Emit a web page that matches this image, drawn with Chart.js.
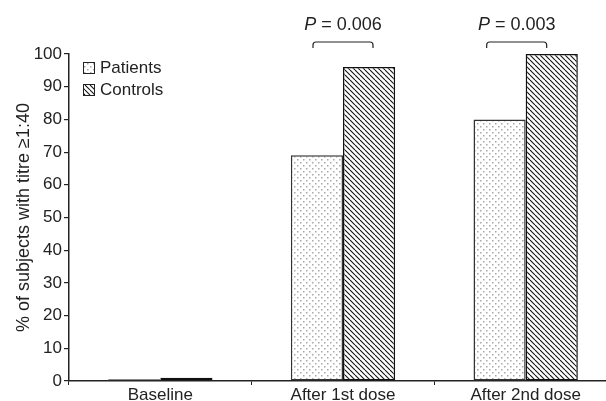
<!doctype html>
<html lang="en">
  <head>
	<meta charset="utf-8">
	<title>Titre chart</title>
	<script src="https://cdn.jsdelivr.net/npm/chart.js@4.4.0/dist/chart.umd.min.js"></script>
	<style>
		body { margin: 0; overflow: hidden; background: #fff; }
		#wrap { width: 617px; height: 401px; }
	</style>
  </head>
  <body>
	<div id="wrap"><canvas id="canvas"></canvas></div>
	<script>
    var categories = ['Baseline', 'After 1st dose', 'After 2nd dose'];
    var patients = [0.5, 69, 80];
    var controls = [1, 96, 100];
    var pValues = [null, '0.006', '0.003'];
    var yTicks = [0, 10, 20, 30, 40, 50, 60, 70, 80, 90, 100];

    var ink = '#222';
    var font = 'Liberation Sans, Arial, sans-serif';

    // stippled fill for patients
    function dotPattern() {
        var c = document.createElement('canvas');
        c.width = 6; c.height = 6;
        var g = c.getContext('2d');
        g.fillStyle = '#fff';
        g.fillRect(0, 0, 6, 6);
        g.fillStyle = '#a8a8a8';
        g.fillRect(0, 0, 1.5, 1.5);
        g.fillRect(3, 3, 1.5, 1.5);
        return g.createPattern(c, 'repeat');
    }

    // backslash hatching for controls
    function hatchPattern() {
        var s = 5;
        var c = document.createElement('canvas');
        c.width = s; c.height = s;
        var g = c.getContext('2d');
        g.fillStyle = '#fff';
        g.fillRect(0, 0, s, s);
        g.strokeStyle = '#111';
        g.lineWidth = 1.1;
        for (var k = -1; k <= 1; k++) {
            g.beginPath();
            g.moveTo(k * s, 0);
            g.lineTo(k * s + s, s);
            g.stroke();
        }
        return g.createPattern(c, 'repeat');
    }

    var legendBoxes = {
        id: 'legendBoxes',
        afterDraw: function(chart) {
            var ctx = chart.ctx, a = chart.chartArea;
            ctx.save();
            ctx.font = '17px ' + font;
            ctx.textBaseline = 'middle';
            chart.data.datasets.forEach(function(ds, i) {
                var x = a.left + 14, y = a.top + 8 + i * 22;
                ctx.fillStyle = ds.backgroundColor;
                ctx.fillRect(x, y, 11, 11);
                ctx.strokeStyle = ink;
                ctx.lineWidth = 1;
                ctx.strokeRect(x + 0.5, y + 0.5, 11, 11);
                ctx.fillStyle = ink;
                ctx.fillText(ds.label, x + 17, y + 6);
            });
            ctx.restore();
        }
    };

    var pBrackets = {
        id: 'pBrackets',
        afterDraw: function(chart) {
            var ctx = chart.ctx, a = chart.chartArea;
            var xs = chart.scales.x;
            ctx.save();
            ctx.strokeStyle = ink;
            ctx.fillStyle = ink;
            ctx.lineWidth = 1.2;
            pValues.forEach(function(p, i) {
                if (!p) return;
                var cx = xs.getPixelForValue(i) - (i === 2 ? 9 : 0);
                var x1 = cx - 30, x2 = cx + 30;
                var yb = a.top - 12, r = 3;
                ctx.beginPath();
                ctx.moveTo(x1, yb + 6);
                ctx.arcTo(x1, yb, x1 + r, yb, r);
                ctx.lineTo(x2 - r, yb);
                ctx.arcTo(x2, yb, x2, yb + 6, r);
                ctx.lineTo(x2, yb + 6);
                ctx.stroke();

                var rest = ' = ' + p;
                ctx.font = 'italic 18px ' + font;
                var w1 = ctx.measureText('P').width;
                ctx.font = '18px ' + font;
                var w2 = ctx.measureText(rest).width;
                var tx = cx - (w1 + w2) / 2;
                ctx.textBaseline = 'alphabetic';
                ctx.font = 'italic 18px ' + font;
                ctx.fillText('P', tx, a.top - 24);
                ctx.font = '18px ' + font;
                ctx.fillText(rest, tx + w1, a.top - 24);
            });
            ctx.restore();
        }
    };

    var config = {
        type: 'bar',
        data: {
            labels: categories,
            datasets: [{
                label: 'Patients',
                data: patients,
                backgroundColor: dotPattern(),
                borderColor: '#333',
                borderWidth: 1.5,
                borderSkipped: false
            }, {
                label: 'Controls',
                data: controls,
                backgroundColor: hatchPattern(),
                borderColor: '#111',
                borderWidth: 1.5,
                borderSkipped: false
            }]
        },
        options: {
            responsive: true,
            maintainAspectRatio: false,
            animation: false,
            layout: { padding: { top: 54, left: 0, right: 0, bottom: 0 } },
            plugins: {
                legend: { display: false },
                tooltip: { enabled: false }
            },
            datasets: {
                bar: { categoryPercentage: 0.571, barPercentage: 1 }
            },
            scales: {
                x: {
                    grid: { drawOnChartArea: false, drawTicks: true, tickLength: 4, color: ink, lineWidth: 1 },
                    border: { display: true, color: ink, width: 1.5 },
                    ticks: { color: ink, font: { family: font, size: 17 }, padding: 0 },
                    afterFit: function(s) { s.height = 20; }
                },
                y: {
                    min: 0,
                    max: 100,
                    afterBuildTicks: function(s) { s.ticks = yTicks.map(function(v) { return { value: v }; }); },
                    grid: { drawOnChartArea: false, drawTicks: true, tickLength: 5, color: ink, lineWidth: 1.2 },
                    border: { display: true, color: ink, width: 1.5 },
                    ticks: { color: ink, font: { family: font, size: 17 }, padding: 2 },
                    title: {
                        display: true,
                        text: '% of subjects with titre \u22651:40',
                        color: ink,
                        font: { family: font, size: 18 },
                        padding: { top: 13, bottom: 0 }
                    },
                    afterFit: function(s) { s.width = 69; }
                }
            }
        },
        plugins: [legendBoxes, pBrackets]
    };

    window.myBar = new Chart(document.getElementById('canvas'), config);
    </script>
</body>
</html>
